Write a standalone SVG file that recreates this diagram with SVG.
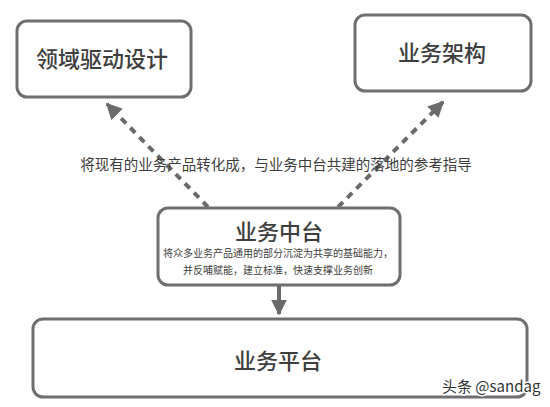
<svg xmlns="http://www.w3.org/2000/svg" width="550" height="407" viewBox="0 0 550 407">
  <style>
    .box { fill: #ffffff; stroke: #6f6f6f; stroke-width: 3; }
    .t { font-family: "Noto Sans CJK SC", "Noto Sans", sans-serif; fill: #3e3e3e; text-anchor: middle; }
    .title { font-size: 22px; font-weight: 500; }
    .small { font-size: 10px; }
    .cap { font-size: 14.5px; }
    .dash { fill: none; stroke: #6a6a6a; stroke-width: 4; stroke-dasharray: 7 6; }
    .solid { fill: none; stroke: #6a6a6a; stroke-width: 4; }
    .wm { font-family: "Noto Sans CJK SC", "Liberation Sans", sans-serif; font-size: 15px; fill: #333; stroke: #fff; stroke-width: 3; paint-order: stroke; stroke-linejoin: round; }
  </style>
  <defs>
    <marker id="ah" viewBox="0 0 10 10" refX="9" refY="5" markerWidth="4" markerHeight="4" orient="auto" markerUnits="strokeWidth">
      <path d="M0,0 L10,5 L0,10 z" fill="#6a6a6a"/>
    </marker>
  </defs>
  <rect width="550" height="407" fill="#ffffff"/>

  <g id="connectors">
    <line class="dash" x1="208" y1="207" x2="107" y2="104" marker-end="url(#ah)"/>
    <line class="dash" x1="338" y1="207" x2="443" y2="102" marker-end="url(#ah)"/>
    <line class="solid" x1="279" y1="285" x2="279" y2="314" marker-end="url(#ah)"/>
  </g>

  <g id="node-ddd">
    <rect class="box" x="17" y="21" width="174" height="76" rx="10"/>
    <text class="t title" x="102" y="67">领域驱动设计</text>
  </g>

  <g id="node-arch">
    <rect class="box" x="355" y="15" width="176" height="76" rx="10"/>
    <text class="t title" x="442" y="61">业务架构</text>
  </g>

  <g id="caption">
    <text class="t cap" x="276" y="170">将现有的业务产品转化成，与业务中台共建的落地的参考指导</text>
  </g>

  <g id="node-middle">
    <rect class="box" x="158" y="208" width="242" height="77" rx="10"/>
    <text class="t title" x="279" y="240">业务中台</text>
    <text class="t small" x="278" y="257">将众多业务产品通用的部分沉淀为共享的基础能力，</text>
    <text class="t small" x="278" y="274">并反哺赋能，建立标准，快速支撑业务创新</text>
  </g>

  <g id="node-platform">
    <rect class="box" x="33" y="319" width="494" height="78" rx="10"/>
    <text class="t title" x="278" y="369">业务平台</text>
  </g>

  <text class="wm" x="442" y="392">头条 @sandag</text>
</svg>
